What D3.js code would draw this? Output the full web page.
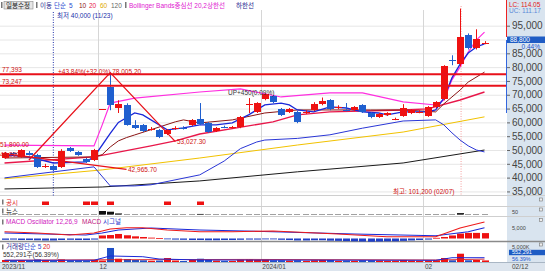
<!DOCTYPE html>
<html>
<head>
<meta charset="utf-8">
<script src="https://cdn.jsdelivr.net/npm/d3@7"></script>
<style>
    body { margin: 0; background: #fff; }
    svg { display: block; font-family: 'Liberation Sans', 'Noto Sans CJK KR', sans-serif; font-size: 6.5px; }
    .grid line { stroke: #e6e6e6; }
    .grid .domain { display: none; }
    .yaxis .domain { display: none; }
    .yaxis text { fill: #444; }
    .yaxis line { stroke: #666; }
    .side { font-size: 5.5px; }
</style>
</head>
<body>
<svg width="545" height="271"></svg>
<script>
    let width = 545
    let height = 271
    let plotRight = 506

    // daily candles (index 0 = left edge)
    let opens  = [47100,48900,47500,49000,48200,44200,44200,43900,50700,49300,46800,46400,65000,72700,65200,66200,59000,59000,57400,57200,
                  55800,57900,58000,59000,61200,59700,56900,58300,58100,58300,66500,63700,68400,69500,64800,63700,63700,63600,64400,66600,
                  68000,65400,64500,64400,66200,63400,61900,62600,61200,62300,63400,63700,62300,65500,68400,82500,81000,91500,86800,88600]
    let highs  = [49300,49200,50300,49600,48600,45000,44600,50300,51100,49600,47100,50400,65000,78005,68000,66900,60800,59400,58300,57600,
                  57600,58600,58600,61200,67000,60100,58300,58800,58700,62300,68800,67300,70500,69900,65200,65200,64100,64400,67300,69000,
                  68400,66200,67000,65900,66600,63700,63400,63700,61700,66600,64800,64400,65900,67700,80700,84300,101200,92200,93700,89400]
    let lows   = [46800,48200,47200,48000,43500,43500,42400,43500,49300,47900,45300,46000,65000,64400,63400,58800,57600,56500,57000,54300,
                  55400,57300,57400,58700,59000,56200,56500,57900,57800,57900,63400,63400,68000,67000,62300,63400,59700,63000,64100,66200,
                  64400,64800,64000,64100,63400,61500,61600,62300,60800,62000,63000,63300,62000,65100,68000,80700,80300,86400,86400,88300]
    let closes = [48900,48500,50000,48200,43900,44300,42800,49600,49600,48200,45700,50000,65000,66200,66600,59000,57900,56900,57600,54700,
                  57200,58000,57900,60800,59400,56500,57900,58200,58300,61900,66600,67000,70200,67300,62600,64800,60100,63700,66600,67700,
                  64800,65500,64400,65500,63700,61900,63000,63400,61300,65200,64400,63800,65500,67300,80300,82400,90800,86800,90100,88800]

    // moving averages / bands as [day index, price]
    let ma5   = [[0,48200],[3,47500],[6,45300],[10,45700],[11,47500],[13,56000],[14,60000],[16,63400],[17,62700],[20,57300],[22,58000],
                 [24,59100],[26,59100],[28,59800],[30,62700],[32,66300],[34,67000],[35,66300],[36,64500],[38,63800],[40,65600],[42,65200],
                 [44,63800],[46,63400],[47,62700],[49,63800],[52,63800],[53,64500],[54,68800],[55,76100],[56,81100],[57,85100],[58,87300],[59,88400]]
    let ma10  = [[0,47100],[11,47500],[12,48300],[13,51100],[14,53300],[15,54500],[16,55450],[21,60200],[22,60900],[24,59800],[28,60900],
                 [32,63400],[36,64500],[40,64500],[45,64500],[49,64500],[53,63800],[54,66700],[55,69200],[56,71700],[57,74600],[59,78200]]
    let ma20  = [[0,45300],[11,47500],[18,51500],[21,53300],[24,55800],[33,60200],[36,62700],[40,63800],[49,64500],[52,64900],[56,68100],[59,71000]]
    let ma60  = [[0,39600],[12,42800],[24,47100],[36,51800],[49,56500],[59,62000]]
    let ma120 = [[0,35900],[12,36600],[24,38800],[36,42100],[49,45300],[59,50000]]
    let bbUpper = [[0,51800],[11,51500],[12,59000],[13,67000],[16,68800],[24,71000],[29,72100],[34,69200],[40,70700],[44,70700],[49,67400],
                   [53,66300],[54,68100],[55,75400],[56,80100],[57,85500],[58,89800],[59,92700]]
    let bbLower = [[0,39900],[11,43900],[13,37000],[16,37000],[18,37400],[24,41000],[27,46000],[29,50500],[31,52900],[32,53600],[36,54200],
                   [40,55500],[44,57900],[49,60500],[53,60900],[54,59100],[55,56200],[56,53600],[57,51500],[58,50000],[59,49300]]

    let levelLines = [77393, 73247]
    let zigzag = [[3,46400],[13,78005.2],[21,53027.3]]
    let trendLine = [[0,48700],[15,42965.7]]

    let priceTicks = [35000,40000,45000,50000,55000,60000,65000,70000,75000,80000,85000,90000,95000]
    let monthStarts = [12, 32, 52]
    let monthLabels = ["12", "2024/01", "02"]

    let disclosureDays = [5, 10, 11, 13, 20, 24]
    let newsDays = [12, 13, 14, 24, 56]
    let newsCounts = [50, 40, 15, 8, 20]

    let macdLine   = [[0,3150],[4,2550],[8,1620],[11,2550],[13,4400],[15,5000],[17,5000],[20,3940],[24,3150],[28,3150],[33,3470],
                      [41,2080],[47,830],[53,830],[56,4860],[59,7640]]
    let signalLine = [[0,2550],[10,1620],[12,2550],[14,3940],[18,4860],[24,3940],[33,3150],[43,2080],[53,1300],[57,3150],[59,5000]]
    let oscillator = [-600,-500,-700,-700,-800,-900,-900,-700,-600,-700,-700,-500,1400,1600,2100,1500,1000,700,400,200,
                      -300,-500,-600,-700,-700,-800,-800,-700,-700,-600,-500,-500,-400,-400,-600,-700,-900,-900,-800,-800,
                      -1000,-1100,-1200,-1300,-1400,-1500,-1400,-1300,-1300,-1100,-900,-700,-500,300,700,1400,2300,2600,2600,2500]

    // volume in thousands of shares
    let volumes = [700,500,700,500,900,700,500,900,500,500,400,700,500,4900,1150,1050,700,600,450,520,
                   1400,520,350,700,1150,700,500,400,400,800,900,700,800,600,600,500,600,400,600,700,
                   700,400,500,400,600,600,500,400,400,700,500,400,500,600,1400,600,2900,600,700,552]
    let volMa5  = [[0,600],[11,600],[13,2100],[17,1850],[19,1050],[24,700],[53,600],[55,1500],[59,1500]]
    let volMa20 = [[0,600],[13,800],[30,900],[53,700],[59,1000]]

    let red = "#ee1111"
    let blue = "#1f5fcf"

    let svg = d3.select("svg")

    let x = d3.scaleLinear().domain([0, 59]).range([4.5, 484.5])
    let y = d3.scaleLinear().domain([50000, 95000]).range([150, 25.7])
    let yMacd = d3.scaleLinear().domain([0, 5000]).range([238.5, 227.7])
    let yVol = d3.scaleLinear().domain([0, 5000]).range([262, 247.7])
    let yNews = d3.scaleLinear().domain([0, 50]).range([214.5, 211])

    // right axis panel + x axis strip
    svg.append("rect").attr("x", plotRight + 1).attr("y", 0).attr("width", width - plotRight).attr("height", 262).attr("fill", "#d9e4ef")
    svg.append("rect").attr("x", 0).attr("y", 262).attr("width", width).attr("height", 9).attr("fill", "#dde5ee")
    svg.append("line").attr("x1", 0).attr("x2", width).attr("y1", 262.5).attr("y2", 262.5).attr("stroke", "#a9b6c4")

    // grid
    svg.append("g")
        .attr("class", "grid")
        .call(d3.axisRight(y).tickValues(priceTicks).tickSize(plotRight).tickFormat(""))
        .call(g => g.selectAll("line").filter(d => y(d) > 194).remove())

    svg.append("g")
        .selectAll("line")
        .data(monthStarts)
        .join("line")
        .attr("x1", d => Math.round(x(d - 0.5)) + 0.5)
        .attr("x2", d => Math.round(x(d - 0.5)) + 0.5)
        .attr("y1", 10).attr("y2", 262)
        .attr("stroke", "#d6d6d6")

    // panel separators
    let seps = [195.5, 206.5, 216.5]
    svg.append("g").selectAll("line").data(seps).join("line")
        .attr("x1", 0).attr("x2", width).attr("y1", d => d).attr("y2", d => d)
        .attr("stroke", "#cfcfcf")
    svg.append("line").attr("x1", 0).attr("x2", width).attr("y1", 241.5).attr("y2", 241.5)
        .attr("stroke", "#8a8a8a").attr("stroke-width", 1.5)

    // dotted markers (low / high)
    svg.append("line").attr("x1", x(6)).attr("x2", x(6)).attr("y1", 12).attr("y2", 196)
        .attr("stroke", "#2233aa").attr("stroke-dasharray", "1,1.5")
    svg.append("line").attr("x1", x(56) + 1).attr("x2", x(56) + 1).attr("y1", 6).attr("y2", 195)
        .attr("stroke", "#f4a0a0").attr("stroke-dasharray", "1,1.5")

    let line = d3.line().x(d => x(d[0])).y(d => y(d[1]))

    let overlays = [
        {data: ma120, color: "#1a1a1a", w: 1},
        {data: ma60, color: "#f2c200", w: 1},
        {data: bbLower, color: "#2a36d6", w: 1},
        {data: bbUpper, color: "#ff2ee0", w: 1.2},
        {data: ma20, color: "#e8174a", w: 1.4},
        {data: ma10, color: "#8a1414", w: 1},
        {data: ma5, color: "#1a28d8", w: 1.3}
    ]

    svg.append("g")
        .selectAll("path")
        .data(overlays)
        .join("path")
        .attr("d", d => line(d.data))
        .attr("fill", "none")
        .attr("stroke", d => d.color)
        .attr("stroke-width", d => d.w)

    // candles
    let candles = d3.range(opens.length).map(i => ({i: i, o: opens[i], h: highs[i], l: lows[i], c: closes[i]}))
    let candleColor = d => d.c >= d.o ? red : blue

    let candleG = svg.append("g")
    candleG.selectAll("line")
        .data(candles)
        .join("line")
        .attr("x1", d => Math.round(x(d.i)) + 0.5)
        .attr("x2", d => Math.round(x(d.i)) + 0.5)
        .attr("y1", d => y(d.h))
        .attr("y2", d => y(d.l))
        .attr("stroke", candleColor)
    candleG.selectAll("rect")
        .data(candles)
        .join("rect")
        .attr("x", d => Math.round(x(d.i)) - 3)
        .attr("width", 7)
        .attr("y", d => y(Math.max(d.o, d.c)))
        .attr("height", d => Math.max(1, Math.abs(y(d.o) - y(d.c))))
        .attr("fill", candleColor)
        .attr("shape-rendering", "crispEdges")

    // support / resistance lines
    svg.append("g")
        .selectAll("line")
        .data(levelLines)
        .join("line")
        .attr("x1", 0).attr("x2", plotRight)
        .attr("y1", d => y(d)).attr("y2", d => y(d))
        .attr("stroke", "#e8101a").attr("stroke-width", 2)

    svg.append("path").attr("d", line(zigzag)).attr("fill", "none").attr("stroke", "#e8101a").attr("stroke-width", 1.3)
    svg.append("path").attr("d", line(trendLine)).attr("fill", "none").attr("stroke", "#e8101a").attr("stroke-width", 1.3)

    // chart annotations
    let notes = [
        {t: "77,393", x: 2, y: y(77393) - 2, c: "#d01010"},
        {t: "73,247", x: 2, y: y(73247) - 2, c: "#d01010"},
        {t: "+43.84%(+32.0%) 78,005.20", x: 58, y: y(78005.2) + 1, c: "#d01010"},
        {t: "53,027.30", x: 177, y: y(53027.3) + 2.5, c: "#d01010"},
        {t: "42,965.70", x: 128, y: y(42965.7) + 2.5, c: "#d01010"},
        {t: "51,800.00", x: 0, y: y(51800) + 2, c: "#d01010"},
        {t: "48,200", x: 0, y: y(48200) + 2.5, c: "#d01010"},
        {t: "최저 40,000 (11/23)", x: 57, y: 18, c: "#2233aa"},
        {t: "최고: 101,200 (02/07)", x: 393, y: 194, c: "#d01010"},
        {t: "UP+450(0.09%)", x: 228, y: 95, c: "#333"}
    ]
    svg.append("g")
        .selectAll("text")
        .data(notes)
        .join("text")
        .attr("x", d => d.x).attr("y", d => d.y)
        .attr("fill", d => d.c)
        .text(d => d.t)

    // legend row
    svg.append("rect").attr("x", 1).attr("y", 2).attr("width", 1.5).attr("height", 6).attr("fill", "#777")
    svg.append("rect").attr("x", 4).attr("y", 1.5).attr("width", 29).attr("height", 7.5).attr("fill", "#e6e6e6").attr("stroke", "#8a8a8a").attr("stroke-width", 0.6)
    svg.append("rect").attr("x", 36).attr("y", 2).attr("width", 1.5).attr("height", 6).attr("fill", "#777")
    svg.append("rect").attr("x", 125).attr("y", 2).attr("width", 1.5).attr("height", 6).attr("fill", "#777")
    let legend = [
        {t: "일봉수정", x: 6, c: "#222"},
        {t: "이동", x: 40, c: "#26268f"},
        {t: "단순", x: 54, c: "#2a4ad0"},
        {t: "5", x: 69, c: "#2a4ad0"},
        {t: "10", x: 79, c: "#8a1414"},
        {t: "20", x: 89, c: "#e8174a"},
        {t: "60", x: 100, c: "#e0a800"},
        {t: "120", x: 111, c: "#666"},
        {t: "Bollinger Bands중심선 20,2", x: 129, c: "#e020d0"},
        {t: "상한선", x: 207, c: "#e020d0"},
        {t: "하한선", x: 236, c: "#26268f"}
    ]
    svg.append("g")
        .selectAll("text")
        .data(legend)
        .join("text")
        .attr("x", d => d.x).attr("y", 7.5)
        .attr("fill", d => d.c)
        .text(d => d.t)

    // right price axis (90,000 sits under the current price box)
    svg.append("g")
        .attr("class", "yaxis")
        .attr("transform", `translate(${plotRight + 1},0)`)
        .call(d3.axisRight(y).tickValues(priceTicks).tickSize(3).tickPadding(2)
            .tickFormat(d => d === 90000 ? "" : d3.format(",")(d)))

    svg.append("line").attr("x1", plotRight + 0.5).attr("x2", plotRight + 0.5).attr("y1", 0).attr("y2", 37).attr("stroke", "#ee2222")
    svg.append("line").attr("x1", plotRight + 0.5).attr("x2", plotRight + 0.5).attr("y1", 40).attr("y2", 113).attr("stroke", "#3366dd")
    svg.append("text").attr("x", 509).attr("y", 7).attr("fill", "#e02020").text("LC: 114.05")
    svg.append("text").attr("x", 509).attr("y", 13).attr("fill", "#5a8ad8").text("UC: 111.17")
    svg.append("rect").attr("x", 507).attr("y", 36.5).attr("width", 38).attr("height", 6.5).attr("fill", "#1e5cc4")
    svg.append("text").attr("x", 510).attr("y", 42).attr("fill", "#fff").text(d3.format(",")(closes[closes.length - 1]))
    svg.append("text").attr("x", 540).attr("y", 48.5).attr("fill", "#2255cc").attr("text-anchor", "end").text("0.44%")

    // disclosure panel
    let tag = (py, label, color) => {
        svg.append("rect").attr("x", 2).attr("y", py - 5).attr("width", 1.5).attr("height", 5).attr("fill", "#777")
        svg.append("text").attr("x", 6).attr("y", py).attr("fill", color).text(label)
    }
    tag(204.5, "공시", "#e02020")
    svg.append("g")
        .selectAll("rect")
        .data(disclosureDays)
        .join("rect")
        .attr("x", d => Math.round(x(d)) - 3).attr("width", 7)
        .attr("y", 201.5).attr("height", 3.5)
        .attr("fill", "#ee1111")

    // news panel
    tag(213.5, "뉴스", "#222")
    svg.append("g")
        .selectAll("rect")
        .data(d3.range(opens.length))
        .join("rect")
        .attr("x", d => Math.round(x(d)) - 3).attr("width", 6)
        .attr("y", 214).attr("height", 0.8)
        .attr("fill", "#8a8a8a")
    svg.append("g")
        .selectAll("rect")
        .data(newsDays)
        .join("rect")
        .attr("x", d => Math.round(x(d)) - 3).attr("width", 7)
        .attr("y", (d, k) => yNews(newsCounts[k]))
        .attr("height", (d, k) => yNews(0) - yNews(newsCounts[k]))
        .attr("fill", "#111")

    // MACD panel
    svg.append("rect").attr("x", 2).attr("y", 219.5).attr("width", 1.5).attr("height", 5).attr("fill", "#777")
    svg.append("text").attr("x", 6).attr("y", 224).attr("fill", "#d020c0").text("MACD Oscillator 12,26,9")
    svg.append("text").attr("x", 82).attr("y", 224).attr("fill", "#c02080").text("MACD")
    svg.append("text").attr("x", 103).attr("y", 224).attr("fill", "#2233cc").text("시그널")

    svg.append("g")
        .selectAll("rect")
        .data(oscillator)
        .join("rect")
        .attr("x", (d, i) => Math.round(x(i)) - 3).attr("width", 7)
        .attr("y", d => d >= 0 ? yMacd(d) : yMacd(0))
        .attr("height", d => Math.max(0.8, Math.abs(yMacd(d) - yMacd(0))))
        .attr("fill", d => d >= 0 ? "#ee1111" : "#1f3fc8")

    let macdPath = d3.line().x(d => x(d[0])).y(d => yMacd(d[1]))
    svg.append("path").attr("d", macdPath(signalLine)).attr("fill", "none").attr("stroke", "#1a28d8").attr("stroke-width", 1.1)
    svg.append("path").attr("d", macdPath(macdLine)).attr("fill", "none").attr("stroke", "#ee1a1a").attr("stroke-width", 1.1)

    // volume panel
    svg.append("rect").attr("x", 2).attr("y", 244.5).attr("width", 1.5).attr("height", 5).attr("fill", "#777")
    svg.append("text").attr("x", 6).attr("y", 249).attr("fill", "#26268f").text("거래량")
    svg.append("text").attr("x", 24).attr("y", 249).attr("fill", "#2a4ad0").text("단순 5")
    svg.append("text").attr("x", 43).attr("y", 249).attr("fill", "#e02020").text("20")
    svg.append("text").attr("x", 3).attr("y", 256.5).attr("fill", "#333").text("552,291주(56.39%)")

    svg.append("g")
        .selectAll("rect")
        .data(volumes)
        .join("rect")
        .attr("x", (d, i) => Math.round(x(i)) - 3).attr("width", 7)
        .attr("y", d => yVol(d))
        .attr("height", d => yVol(0) - yVol(d))
        .attr("fill", (d, i) => closes[i] >= opens[i] ? "#ee1111" : "#1f4fc8")

    let volPath = d3.line().x(d => x(d[0])).y(d => yVol(d[1]))
    svg.append("path").attr("d", volPath(volMa20)).attr("fill", "none").attr("stroke", "#e02020").attr("stroke-width", 0.9)
    svg.append("path").attr("d", volPath(volMa5)).attr("fill", "none").attr("stroke", "#1a28d8").attr("stroke-width", 1)

    // lower right labels
    let sideLabels = [
        {t: "50", y: 213.5, c: "#444"},
        {t: "5,000", y: 229.5, c: "#444"},
        {t: "5,000K", y: 248.6, c: "#444"},
        {t: "56.39%", y: 260.8, c: "#2255cc"}
    ]
    svg.append("g").selectAll("text").data(sideLabels).join("text")
        .attr("class", "side")
        .attr("x", 512).attr("y", d => d.y).attr("fill", d => d.c).text(d => d.t)
    svg.append("rect").attr("x", 509).attr("y", 249.8).attr("width", 36).attr("height", 5.4).attr("fill", "#1e5cc4")
    svg.append("text").attr("class", "side").attr("x", 512).attr("y", 254.4).attr("fill", "#fff").text("552,291")

    svg.append("g").selectAll("rect").data([198, 208, 218.5, 243]).join("rect")
        .attr("x", 539.5).attr("y", d => d).attr("width", 3).attr("height", 3)
        .attr("fill", "#eee").attr("stroke", "#777").attr("stroke-width", 0.6)

    // x axis labels
    svg.append("text").attr("x", 2).attr("y", 269).attr("fill", "#444").text("2023/11")
    svg.append("g")
        .selectAll("text")
        .data(monthStarts)
        .join("text")
        .attr("x", d => x(d - 0.5) + 1.5)
        .attr("y", 269)
        .attr("fill", "#444")
        .text((d, k) => monthLabels[k])
    svg.append("text").attr("x", 512).attr("y", 269).attr("fill", "#444").text("02/12")
</script>
</body>
</html>
